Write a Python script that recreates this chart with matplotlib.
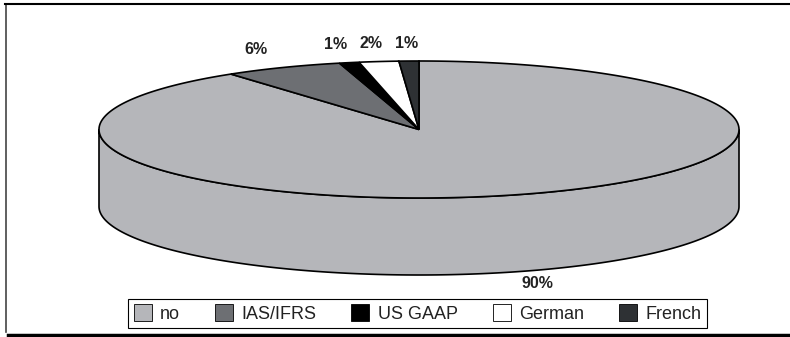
import matplotlib.pyplot as plt
import numpy as np
from matplotlib.patches import Polygon, Patch
from matplotlib.lines import Line2D

plt.rcParams['font.family'] = ['Liberation Sans', 'DejaVu Sans']

# Accounting standard used
labels = ['no', 'IAS/IFRS', 'US GAAP', 'German', 'French']
shares = [90, 6, 1, 2, 1]
colors = ['#b5b6ba', '#6d6f73', '#000000', '#ffffff', '#2e3134']

# Pie geometry (pixel space of the figure)
cx, cy = 419, 129.5
rx, ry = 320, 68.5
depth = 77


def ell(theta):
    t = np.radians(theta)
    return cx + rx * np.cos(t), cy - ry * np.sin(t)


fig = plt.figure(figsize=(7.9, 3.37), dpi=100)
ax = fig.add_axes([0, 0, 1, 1])
ax.set_xlim(0, 790)
ax.set_ylim(337, 0)
ax.axis('off')

# slice angles: start at 12 o'clock, go clockwise
bounds = 90 - 3.6 * np.concatenate([[0], np.cumsum(shares)])

# side wall (front half belongs to the big slice)
t = np.linspace(180, 360, 200)
xs, ys = ell(t)
side = np.column_stack([np.concatenate([xs, xs[::-1]]),
                        np.concatenate([ys, ys[::-1] + depth])])
ax.add_patch(Polygon(side, closed=True, facecolor=colors[0],
                     edgecolor='black', lw=1.2, zorder=1))

# top faces
for i, (lab, val) in enumerate(zip(labels, shares)):
    t = np.linspace(bounds[i], bounds[i + 1], max(int(abs(3.6 * val)), 2) * 2)
    xs, ys = ell(t)
    pts = np.column_stack([np.concatenate([[cx], xs]), np.concatenate([[cy], ys])])
    ax.add_patch(Polygon(pts, closed=True, facecolor=colors[i],
                         edgecolor='black', lw=1.2, joinstyle='miter', zorder=2))

    mid = np.radians((bounds[i] + bounds[i + 1]) / 2)
    lx = cx + 1.2 * rx * np.cos(mid)
    if np.sin(mid) > 0:
        ly = cy - ry * np.sin(mid) - 18
    else:
        ly = cy - ry * np.sin(mid) + depth + 12
    ax.text(lx, ly, f'{val}%', ha='center', va='center',
            fontsize=11.5, fontweight='bold', color='#222222')

# chart frame
ax.add_line(Line2D([5.5, 5.5], [4, 332], color='#444444', lw=1.2))
ax.add_line(Line2D([5, 790], [4, 4], color='black', lw=1.5))
ax.add_line(Line2D([8, 790], [334.5, 334.5], color='black', lw=2.5))

handles = [Patch(facecolor=c, edgecolor='black', lw=0.6) for c in colors]
leg = fig.legend(handles, labels, loc='center', ncol=5,
                 bbox_to_anchor=(417.5 / 790, 1 - 313.5 / 337),
                 fontsize=13, frameon=True, fancybox=False,
                 edgecolor='black', framealpha=1, borderpad=0.3,
                 handlelength=1.0, handleheight=1.1, handletextpad=0.45,
                 columnspacing=1.95, borderaxespad=0)
leg.get_frame().set_linewidth(0.8)
for txt in leg.get_texts():
    txt.set_color('#222222')

fig.savefig('out.png', dpi=100)
